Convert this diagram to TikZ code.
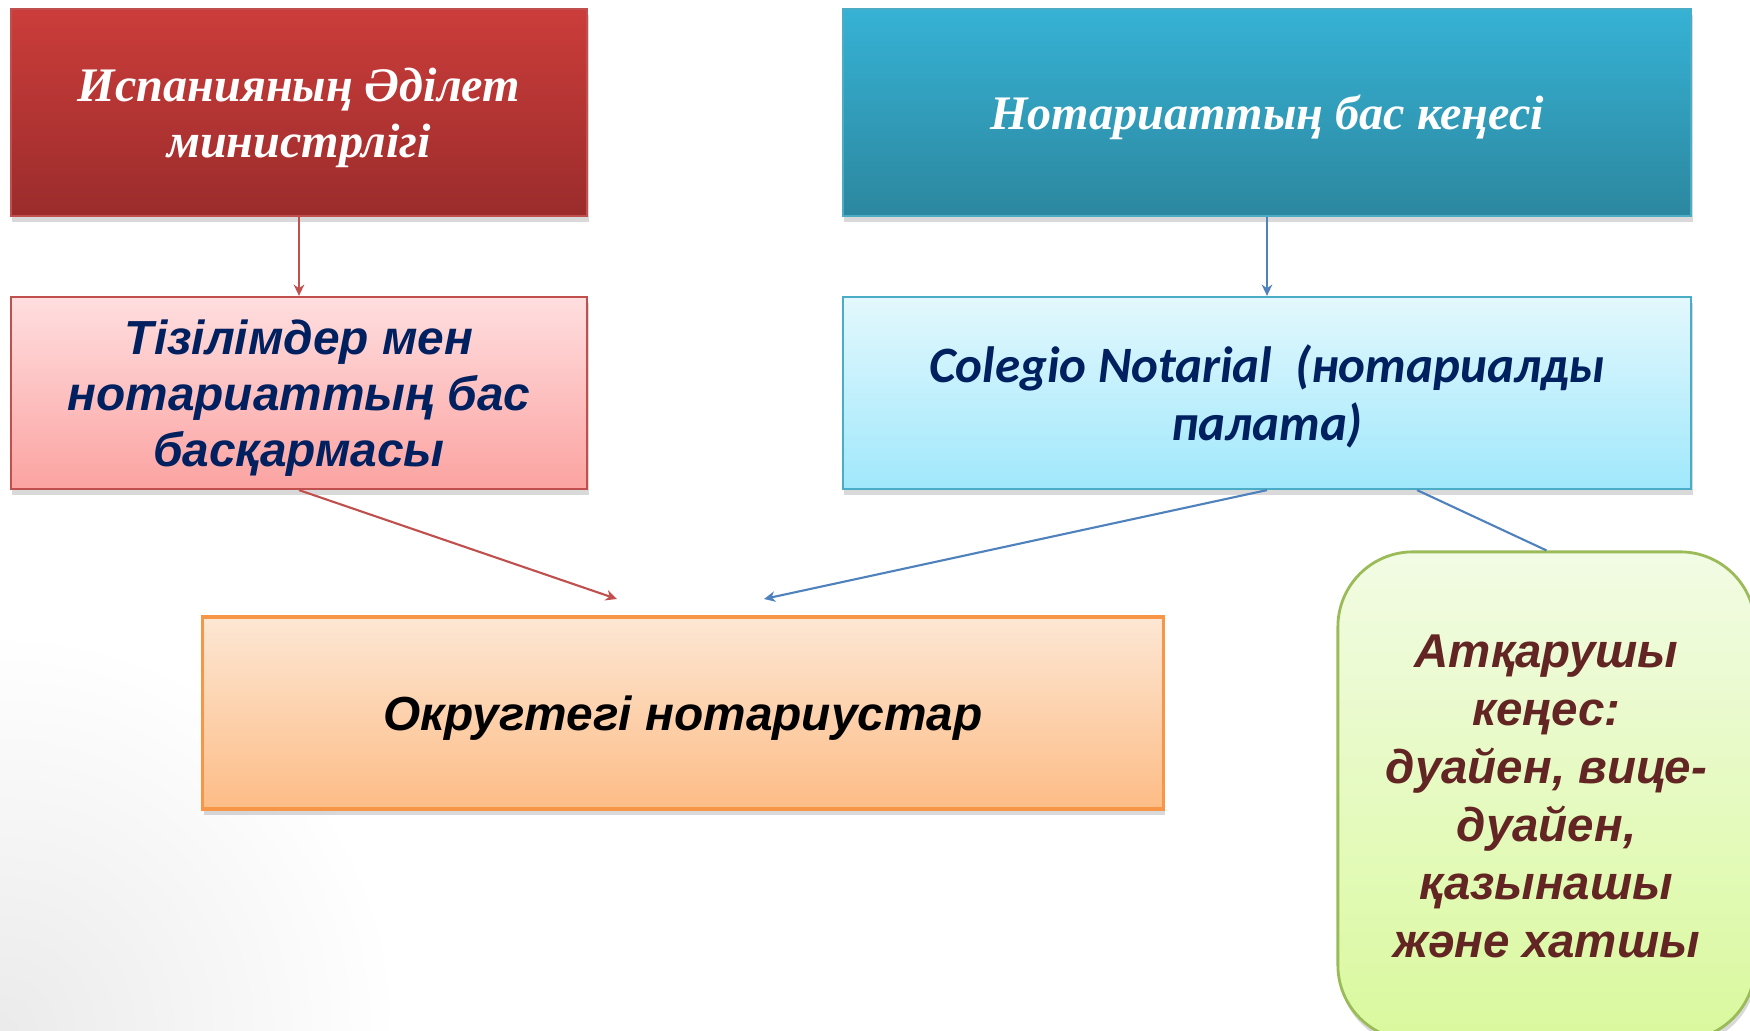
\documentclass[tikz,border=0pt]{standalone}
\usepackage{fontspec}
\setmainfont{Liberation Sans}
\newfontfamily\serifbox{Liberation Serif}
\newfontfamily\calibox{Carlito}
\usetikzlibrary{arrows.meta,shadows}

\definecolor{redtop}{HTML}{CB3D3A}
\definecolor{redbottom}{HTML}{9B2C2C}
\definecolor{redline}{HTML}{C0504D}
\definecolor{pinktop}{HTML}{FFDEDF}
\definecolor{pinkbottom}{HTML}{FBA3A1}
\definecolor{bluetop}{HTML}{36B2D5}
\definecolor{bluebottom}{HTML}{2C879F}
\definecolor{blueline}{HTML}{4BACC6}
\definecolor{cyantop}{HTML}{E3F8FD}
\definecolor{cyanbottom}{HTML}{A0E8FC}
\definecolor{orangetop}{HTML}{FDE7D4}
\definecolor{orangebottom}{HTML}{FDBC86}
\definecolor{orangeline}{HTML}{F79646}
\definecolor{greentop}{HTML}{F2FBE4}
\definecolor{greenbottom}{HTML}{D9F99D}
\definecolor{greenline}{HTML}{9BBB59}
\definecolor{arrowblue}{HTML}{4F81BD}
\definecolor{navytext}{HTML}{002060}
\definecolor{maroontext}{HTML}{632523}

\begin{document}
\begin{tikzpicture}[x=0.01cm,y=-0.01cm,
  box/.style={rectangle, inner sep=0pt, line width=0.6pt, align=center,
    drop shadow={shadow xshift=0.4pt, shadow yshift=-1.6pt, opacity=0.3}},
  headbox/.style={box, minimum height=2.07cm, text=white, text depth=0pt,
    font=\serifbox\bfseries\itshape\fontsize{13.7}{16}\selectfont},
  subbox/.style={box, minimum height=1.92cm, text=navytext, text depth=0pt},
  redarrow/.style={draw=redline, line width=0.6pt, -{Stealth[length=3.2pt,width=3pt,inset=1pt]}},
  bluearrow/.style={draw=arrowblue, line width=0.6pt, -{Stealth[length=3.2pt,width=3pt,inset=1pt]}}]

	\useasboundingbox (0,0) rectangle (1750,1031);

	% background corner
	\begin{scope}
		\clip (0,0) rectangle (1750,1031);
		\shade[inner color=black!8, outer color=white, draw=none] (0,1031) circle (400);
	\end{scope}

	% top row
	\node[headbox, minimum width=5.76cm, top color=redtop, bottom color=redbottom, draw=redline]
		(minjust) at (299,112.5) {Испанияның Әділет\\министрлігі};
	\node[headbox, minimum width=8.48cm, top color=bluetop, bottom color=bluebottom, draw=blueline]
		(council) at (1267,112.5) {Нотариаттың бас кеңесі};

	% second row
	\node[subbox, minimum width=5.76cm, top color=pinktop, bottom color=pinkbottom, draw=redline,
		font=\bfseries\itshape\fontsize{13.6}{16}\selectfont]
		(registry) at (299,393) {Тізілімдер мен\\нотариаттың бас\\басқармасы};
	\node[subbox, minimum width=8.48cm, top color=cyantop, bottom color=cyanbottom, draw=blueline,
		font=\calibox\bfseries\itshape\fontsize{14.5}{16.5}\selectfont]
		(colegio) at (1267,393) {Colegio Notarial\ \ (нотариалды\\палата)};

	% notaries
	\node[box, minimum width=9.6cm, minimum height=1.92cm, top color=orangetop, bottom color=orangebottom,
		draw=orangeline, line width=0.9pt, text depth=0pt, font=\bfseries\itshape\fontsize{13.6}{16}\selectfont]
		(notaries) at (683,713) {Округтегі нотариустар};

	% executive board
	\begin{scope}
		\clip (0,0) rectangle (1750,1031);
		\node[box, minimum width=4.17cm, minimum height=4.88cm, rounded corners=0.75cm,
			top color=greentop, bottom color=greenbottom, draw=greenline, line width=0.8pt,
			text=maroontext, font=\bfseries\itshape\fontsize{13.5}{16.5}\selectfont]
			(exec) at (1546.5,796) {Атқарушы\\кеңес:\\дуайен, вице-\\дуайен,\\қазынашы\\және хатшы};
	\end{scope}

	\coordinate (redend) at (617,599);
	\coordinate (blueend) at (764,599);

	\draw[redarrow] (minjust.south) -- (registry.north);
	\draw[redarrow] (registry.south) -- (redend);
	\draw[bluearrow] (council.south) -- (colegio.north);
	\draw[bluearrow] (colegio.south) -- (blueend);
	\draw[arrowblue, line width=0.6pt] ([xshift=1.5cm]colegio.south) -- (exec.north);
\end{tikzpicture}
\end{document}
